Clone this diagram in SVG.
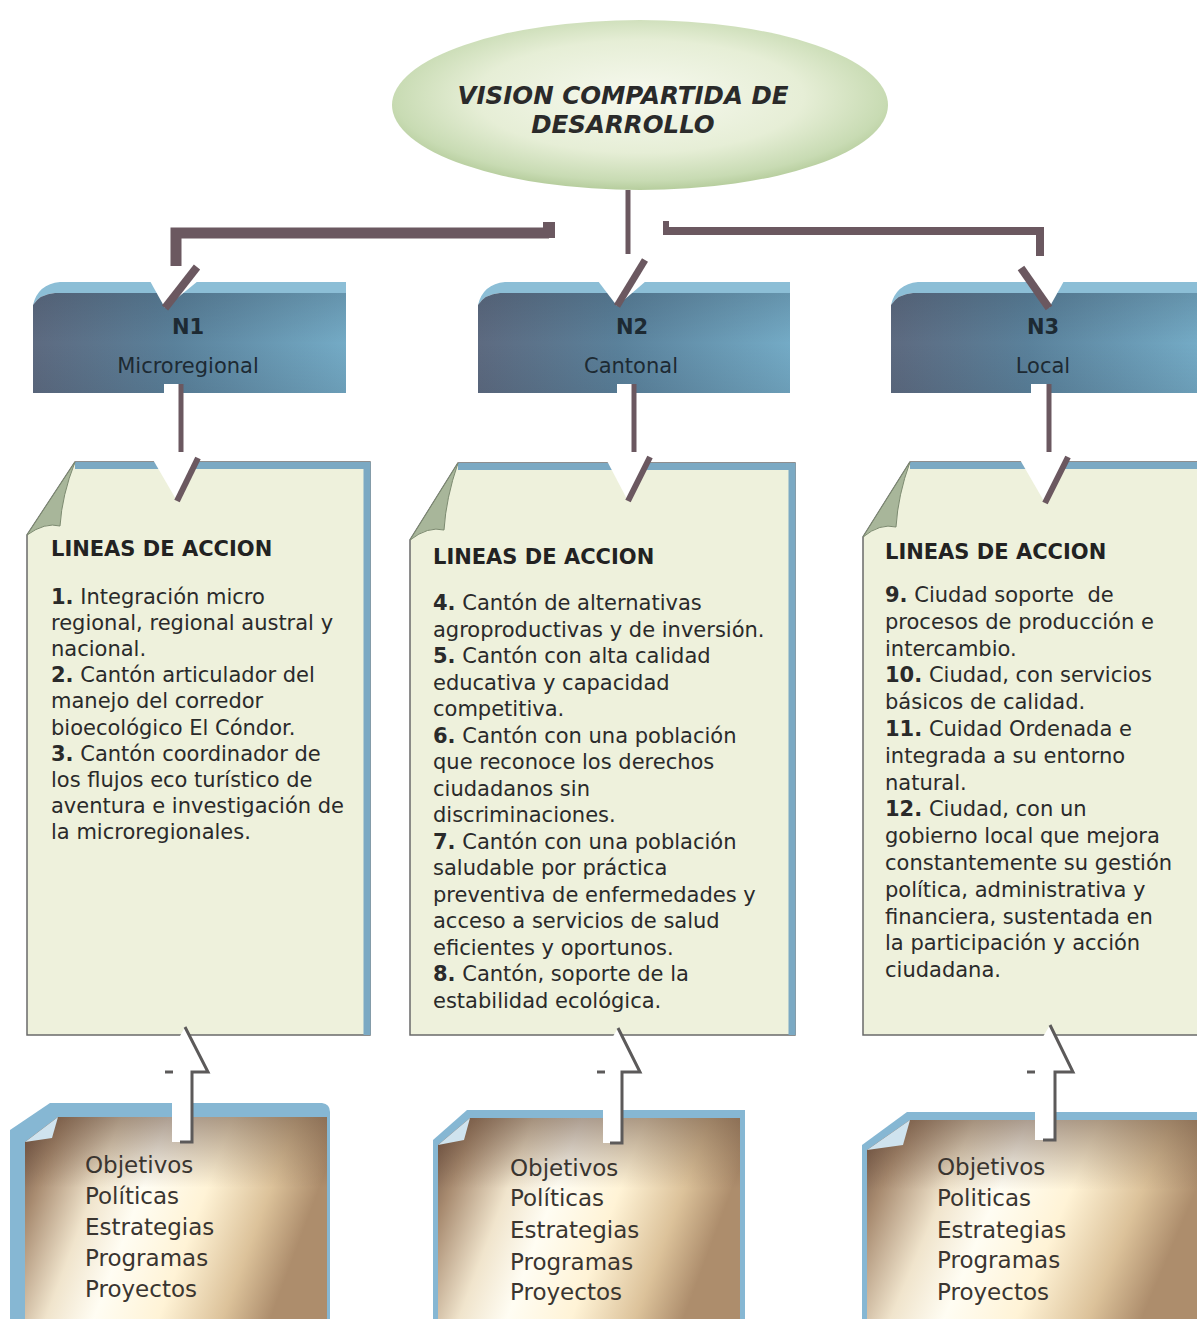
<svg xmlns="http://www.w3.org/2000/svg" width="1197" height="1319" viewBox="0 0 1197 1319">
<defs>
<radialGradient id="gEll" cx="50%" cy="45%" r="55%">
<stop offset="0" stop-color="#f7f9ef"/>
<stop offset="0.6" stop-color="#e6eed6"/>
<stop offset="0.9" stop-color="#c8dbb3"/>
<stop offset="1" stop-color="#b6cd9d"/>
</radialGradient>
<linearGradient id="gN" x1="0" y1="0" x2="1" y2="0">
<stop offset="0" stop-color="#5d6a80"/>
<stop offset="0.45" stop-color="#5a819b"/>
<stop offset="1" stop-color="#74abc6"/>
</linearGradient>
<linearGradient id="gNv" x1="0" y1="0" x2="0" y2="1">
<stop offset="0" stop-color="#2c3a4a" stop-opacity="0.2"/>
<stop offset="0.5" stop-color="#2c3a4a" stop-opacity="0"/>
<stop offset="1" stop-color="#2c3a4a" stop-opacity="0.12"/>
</linearGradient>
<linearGradient id="gMetal" x1="0" y1="0" x2="1" y2="0.25">
<stop offset="0" stop-color="#6e5242"/>
<stop offset="0.12" stop-color="#a88b70"/>
<stop offset="0.3" stop-color="#f0e4cc"/>
<stop offset="0.45" stop-color="#fffdf3"/>
<stop offset="0.65" stop-color="#fff3d6"/>
<stop offset="0.85" stop-color="#dcc29a"/>
<stop offset="1" stop-color="#ad8d6c"/>
</linearGradient>
<linearGradient id="gMetalV" x1="0" y1="0" x2="0" y2="1">
<stop offset="0" stop-color="#5a3e2e" stop-opacity="0.5"/>
<stop offset="0.35" stop-color="#5a3e2e" stop-opacity="0"/>
<stop offset="1" stop-color="#5a3e2e" stop-opacity="0"/>
</linearGradient>
<style>
.t{font-family:"DejaVu Sans",Verdana,sans-serif;fill:#2a2a2a}
.it{font-size:21px}
.hd{font-size:21px;font-weight:bold;fill:#222}
.b{font-weight:bold}
.nl{font-family:"DejaVu Sans",Verdana,sans-serif;font-size:21px;fill:#1d2a33;text-anchor:middle}
.ob{font-family:"DejaVu Sans",Verdana,sans-serif;font-size:23px;fill:#3a3530}
.title{font-family:"DejaVu Sans",Verdana,sans-serif;font-size:24.5px;font-weight:bold;font-style:italic;fill:#2a2a2a;text-anchor:middle}
.paper{fill:#eef1dc;stroke:#6a6a6a;stroke-width:1.5}
.blue{stroke:#7ba9c3;stroke-width:7;fill:none}
.flap{fill:#a8b69a;stroke:#7c8a70;stroke-width:1}
.strip{fill:#8cbed6}
.conn{stroke:#6b5860;fill:none}
.notch{fill:#ffffff}
.uparrow{fill:#ffffff;stroke:none}
.shadow{stroke:#5c5a5a;stroke-width:3;fill:none}
.bborder{fill:#86b7d3}
</style>
</defs>
<rect x="0" y="0" width="1197" height="1319" fill="#ffffff"/>

<g id="vision">
<ellipse cx="640" cy="105" rx="248" ry="85" fill="url(#gEll)"/>
<text x="623" y="104" class="title">VISION COMPARTIDA DE</text>
<text x="623" y="133" class="title">DESARROLLO</text>
</g>

<g id="n1">
<path d="M33,305 Q38,284 60,282 L346,282 L346,293 L55,293 Q40,294 33,305 Z" class="strip"/>
<path d="M33,305 Q40,294 55,293 L346,293 L346,393 L33,393 Z" fill="url(#gN)"/>
<path d="M33,305 Q40,294 55,293 L346,293 L346,393 L33,393 Z" fill="url(#gNv)"/>
<text x="188" y="334" class="nl b">N1</text>
<text x="188" y="373" class="nl">Microregional</text>
</g>

<g id="n2">
<path d="M478,305 Q483,284 505,282 L790,282 L790,293 L500,293 Q485,294 478,305 Z" class="strip"/>
<path d="M478,305 Q485,294 500,293 L790,293 L790,393 L478,393 Z" fill="url(#gN)"/>
<path d="M478,305 Q485,294 500,293 L790,293 L790,393 L478,393 Z" fill="url(#gNv)"/>
<text x="632" y="334" class="nl b">N2</text>
<text x="631" y="373" class="nl">Cantonal</text>
</g>

<g id="n3">
<path d="M891,305 Q896,284 918,282 L1197,282 L1197,293 L913,293 Q898,294 891,305 Z" class="strip"/>
<path d="M891,305 Q898,294 913,293 L1197,293 L1197,393 L891,393 Z" fill="url(#gN)"/>
<path d="M891,305 Q898,294 913,293 L1197,293 L1197,393 L891,393 Z" fill="url(#gNv)"/>
<text x="1043" y="334" class="nl b">N3</text>
<text x="1043" y="373" class="nl">Local</text>
</g>

<g id="lineas1">
<path d="M75,462 L370,462 L370,1035 L27,1035 L27,535 Z" class="paper"/>
<path d="M75,465.5 L367,465.5 L367,1035" class="blue"/>
<path d="M75,462 L27,535 Q45,522 60,526 Q62,495 75,462 Z" class="flap"/>
<text class="t hd" x="51" y="556">LINEAS DE ACCION</text>
<text class="t it">
<tspan x="51" y="604"><tspan class="b">1.</tspan> Integración micro</tspan>
<tspan x="51" y="630.1">regional, regional austral y</tspan>
<tspan x="51" y="656.2">nacional.</tspan>
<tspan x="51" y="682.3"><tspan class="b">2.</tspan> Cantón articulador del</tspan>
<tspan x="51" y="708.4">manejo del corredor</tspan>
<tspan x="51" y="734.5">bioecológico El Cóndor.</tspan>
<tspan x="51" y="760.6"><tspan class="b">3.</tspan> Cantón coordinador de</tspan>
<tspan x="51" y="786.7">los flujos eco turístico de</tspan>
<tspan x="51" y="812.8">aventura e investigación de</tspan>
<tspan x="51" y="838.9">la microregionales.</tspan>
</text>
</g>

<g id="lineas2">
<path d="M458,463 L795,463 L795,1035 L410,1035 L410,540 Z" class="paper"/>
<path d="M458,466.5 L792,466.5 L792,1035" class="blue"/>
<path d="M458,463 L410,540 Q428,526 444,530 Q446,498 458,463 Z" class="flap"/>
<text class="t hd" x="433" y="564">LINEAS DE ACCION</text>
<text class="t it">
<tspan x="433" y="610"><tspan class="b">4.</tspan> Cantón de alternativas</tspan>
<tspan x="433" y="636.5">agroproductivas y de inversión.</tspan>
<tspan x="433" y="663"><tspan class="b">5.</tspan> Cantón con alta calidad</tspan>
<tspan x="433" y="689.5">educativa y capacidad</tspan>
<tspan x="433" y="716">competitiva.</tspan>
<tspan x="433" y="742.5"><tspan class="b">6.</tspan> Cantón con una población</tspan>
<tspan x="433" y="769">que reconoce los derechos</tspan>
<tspan x="433" y="795.5">ciudadanos sin</tspan>
<tspan x="433" y="822">discriminaciones.</tspan>
<tspan x="433" y="848.5"><tspan class="b">7.</tspan> Cantón con una población</tspan>
<tspan x="433" y="875">saludable por práctica</tspan>
<tspan x="433" y="901.5">preventiva de enfermedades y</tspan>
<tspan x="433" y="928">acceso a servicios de salud</tspan>
<tspan x="433" y="954.5">eficientes y oportunos.</tspan>
<tspan x="433" y="981"><tspan class="b">8.</tspan> Cantón, soporte de la</tspan>
<tspan x="433" y="1007.5">estabilidad ecológica.</tspan>
</text>
</g>

<g id="lineas3">
<path d="M910,462 L1205,462 L1205,1035 L863,1035 L863,537 Z" class="paper"/>
<path d="M910,465.5 L1205,465.5" class="blue"/>
<path d="M910,462 L863,537 Q880,523 896,527 Q898,495 910,462 Z" class="flap"/>
<text class="t hd" x="885" y="559">LINEAS DE ACCION</text>
<text class="t it">
<tspan x="885" y="602"><tspan class="b">9.</tspan> Ciudad soporte&#160; de</tspan>
<tspan x="885" y="628.8">procesos de producción e</tspan>
<tspan x="885" y="655.6">intercambio.</tspan>
<tspan x="885" y="682.4"><tspan class="b">10.</tspan> Ciudad, con servicios</tspan>
<tspan x="885" y="709.2">básicos de calidad.</tspan>
<tspan x="885" y="736"><tspan class="b">11.</tspan> Cuidad Ordenada e</tspan>
<tspan x="885" y="762.8">integrada a su entorno</tspan>
<tspan x="885" y="789.6">natural.</tspan>
<tspan x="885" y="816.4"><tspan class="b">12.</tspan> Ciudad, con un</tspan>
<tspan x="885" y="843.2">gobierno local que mejora</tspan>
<tspan x="885" y="870">constantemente su gestión</tspan>
<tspan x="885" y="896.8">política, administrativa y</tspan>
<tspan x="885" y="923.6">financiera, sustentada en</tspan>
<tspan x="885" y="950.4">la participación y acción</tspan>
<tspan x="885" y="977.2">ciudadana.</tspan>
</text>
</g>

<g id="instr1">
<path d="M10,1130 L50,1103 L322,1103 Q330,1104 330,1112 L330,1319 L10,1319 Z" class="bborder"/>
<path d="M25,1142 L58,1117 L327,1117 L327,1319 L25,1319 Z" fill="url(#gMetal)"/>
<path d="M25,1142 L58,1117 L327,1117 L327,1319 L25,1319 Z" fill="url(#gMetalV)"/>
<path d="M25,1142 L58,1117 L52,1138 Z" fill="#cfe3ee"/>
<text class="ob">
<tspan x="85" y="1173">Objetivos</tspan>
<tspan x="85" y="1204">Políticas</tspan>
<tspan x="85" y="1235">Estrategias</tspan>
<tspan x="85" y="1266">Programas</tspan>
<tspan x="85" y="1297">Proyectos</tspan>
</text>
</g>

<g id="instr2">
<path d="M433,1140 L467,1110 L745,1110 L745,1319 L433,1319 Z" class="bborder"/>
<path d="M438,1145 L470,1118 L740,1118 L740,1319 L438,1319 Z" fill="url(#gMetal)"/>
<path d="M438,1145 L470,1118 L740,1118 L740,1319 L438,1319 Z" fill="url(#gMetalV)"/>
<path d="M438,1145 L470,1118 L464,1140 Z" fill="#cfe3ee"/>
<text class="ob">
<tspan x="510" y="1176">Objetivos</tspan>
<tspan x="510" y="1206">Políticas</tspan>
<tspan x="510" y="1238">Estrategias</tspan>
<tspan x="510" y="1270">Programas</tspan>
<tspan x="510" y="1300">Proyectos</tspan>
</text>
</g>

<g id="instr3">
<path d="M862,1145 L907,1112 L1205,1112 L1205,1319 L862,1319 Z" class="bborder"/>
<path d="M867,1150 L910,1120 L1205,1120 L1205,1319 L867,1319 Z" fill="url(#gMetal)"/>
<path d="M867,1150 L910,1120 L1205,1120 L1205,1319 L867,1319 Z" fill="url(#gMetalV)"/>
<path d="M867,1150 L910,1120 L903,1145 Z" fill="#cfe3ee"/>
<text class="ob">
<tspan x="937" y="1175">Objetivos</tspan>
<tspan x="937" y="1206">Politicas</tspan>
<tspan x="937" y="1238">Estrategias</tspan>
<tspan x="937" y="1268">Programas</tspan>
<tspan x="937" y="1300">Proyectos</tspan>
</text>
</g>

<g id="connectors">
<path d="M176,266 L176,233 L549,233" class="conn" stroke-width="11"/>
<rect x="543" y="222" width="12" height="16" fill="#6b5860"/>
<path d="M667,231 L1040,231 L1040,256" class="conn" stroke-width="8"/>
<rect x="663" y="221" width="6" height="14" fill="#6b5860"/>
<line x1="628" y1="190" x2="628" y2="254" class="conn" stroke-width="5"/>
<polygon points="150,281 198,281 165,308" class="notch"/>
<line x1="197" y1="267" x2="165" y2="308" class="conn" stroke-width="8"/>
<polygon points="598,281 646,281 617,306" class="notch"/>
<line x1="645" y1="260" x2="617" y2="306" class="conn" stroke-width="7"/>
<polygon points="1028,281 1064,281 1049,308" class="notch"/>
<line x1="1021" y1="268" x2="1049" y2="308" class="conn" stroke-width="8"/>
<rect x="164" y="384" width="16" height="10" fill="#ffffff"/>
<line x1="181" y1="384" x2="181" y2="452" class="conn" stroke-width="5"/>
<rect x="617" y="384" width="16" height="10" fill="#ffffff"/>
<line x1="634" y1="384" x2="634" y2="452" class="conn" stroke-width="5"/>
<rect x="1031" y="384" width="16" height="10" fill="#ffffff"/>
<line x1="1049" y1="384" x2="1049" y2="452" class="conn" stroke-width="5"/>
<polygon points="152,458 199,458 177,501" class="notch"/>
<line x1="198" y1="458" x2="177" y2="501" class="conn" stroke-width="6"/>
<polygon points="606,459 652,459 628,501" class="notch"/>
<line x1="650" y1="457" x2="628" y2="501" class="conn" stroke-width="6"/>
<polygon points="1019,458 1069,458 1045,503" class="notch"/>
<line x1="1068" y1="457" x2="1045" y2="503" class="conn" stroke-width="6"/>
<polygon points="185,1027 208,1072 192,1072 192,1142 172,1142 172,1072 160,1072" class="uparrow"/>
<path d="M185,1027 L208,1072 L192,1072 L192,1142 L180,1142" class="shadow"/>
<line x1="165" y1="1072" x2="173" y2="1072" class="shadow"/>
<polygon points="618,1028 640,1072 622,1072 622,1143 603,1143 603,1072 592,1072" class="uparrow"/>
<path d="M618,1028 L640,1072 L622,1072 L622,1143 L610,1143" class="shadow"/>
<line x1="597" y1="1072" x2="605" y2="1072" class="shadow"/>
<polygon points="1050,1025 1073,1072 1055,1072 1055,1140 1035,1140 1035,1072 1022,1072" class="uparrow"/>
<path d="M1050,1025 L1073,1072 L1055,1072 L1055,1140 L1043,1140" class="shadow"/>
<line x1="1027" y1="1072" x2="1035" y2="1072" class="shadow"/>
</g>
</svg>
